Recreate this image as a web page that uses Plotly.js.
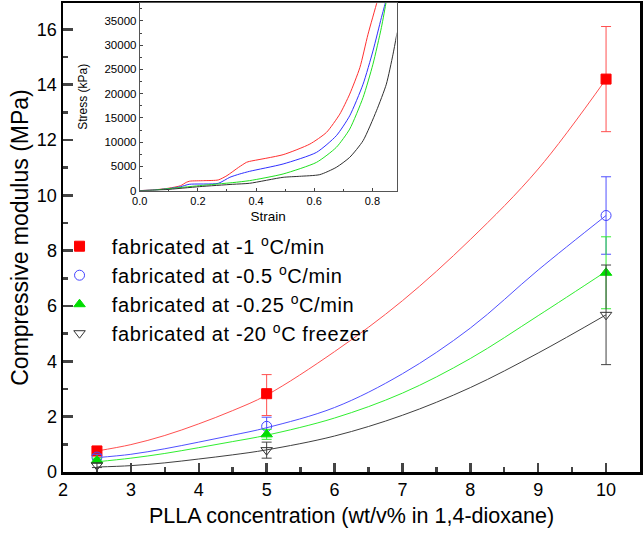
<!DOCTYPE html>
<html><head><meta charset="utf-8">
<script src="https://cdn.plot.ly/plotly-3.0.1.min.js"></script>
<style>html,body{margin:0;padding:0;background:#fff}#c{width:643px;height:536px}
.legendtext{letter-spacing:0.6px}</style>
</head><body><div id="c"></div>
<script>
// Measured data (compressive modulus, MPa)
const conc = [2.5, 5, 10];
const red = [0.76, 2.83, 14.2];
const redErrPlus = [0.17, 0.69, 1.9];
const redErrMinus = [0.17, 0.79, 1.9];
const blue = [0.54, 1.65, 9.27];
const blueErr = [0.1, 0.33, 1.4];
const green = [0.42, 1.36, 7.2];
const greenErr = [0.08, 0.18, 1.3];
const black = [0.24, 0.79, 5.68];
const blackErr = [0.08, 0.29, 1.8];

// Fitted curves
const fitX = [2.5, 3, 3.5, 4, 4.5, 5, 6, 7, 8, 9, 10];
const fitRed = [0.76, 0.99, 1.32, 1.74, 2.22, 2.78, 4.35, 6.19, 8.4, 10.95, 14.2];
const fitBlue = [0.52, 0.64, 0.84, 1.08, 1.33, 1.6, 2.33, 3.55, 5.2, 7.3, 9.27];
const fitGreen = [0.37, 0.5, 0.67, 0.88, 1.1, 1.33, 1.95, 2.85, 4.1, 5.65, 7.25];
const fitBlack = [0.18, 0.23, 0.33, 0.47, 0.62, 0.8, 1.3, 2.05, 3.05, 4.3, 5.68];

// Inset stress-strain curves (strain, stress in kPa)
const strainRed = [0, 0.05, 0.1, 0.14, 0.16, 0.172, 0.22, 0.27, 0.30, 0.34, 0.367, 0.378, 0.493, 0.585, 0.642, 0.688, 0.722, 0.757, 0.785, 0.817, 0.83];
const stressRed = [0, 150, 500, 1000, 1700, 1950, 2050, 2200, 3090, 4800, 5830, 6030, 7410, 9600, 12000, 15780, 19900, 25380, 32250, 39100, 42000];
const strainBlue = [0, 0.05, 0.1, 0.14, 0.17, 0.27, 0.31, 0.344, 0.378, 0.493, 0.608, 0.676, 0.722, 0.768, 0.802, 0.831, 0.846, 0.855];
const stressBlue = [0, 120, 420, 800, 1300, 1500, 2750, 3430, 3980, 5490, 7890, 11320, 15430, 21950, 28800, 35670, 39100, 42000];
const strainGreen = [0, 0.05, 0.09, 0.206, 0.32, 0.378, 0.493, 0.608, 0.676, 0.722, 0.768, 0.802, 0.831, 0.848, 0.857];
const stressGreen = [0, 100, 340, 1030, 1650, 2060, 3430, 5830, 8920, 12690, 19210, 26070, 33610, 39100, 42000];
const strainBlack = [0, 0.05, 0.09, 0.206, 0.32, 0.378, 0.493, 0.55, 0.619, 0.676, 0.722, 0.768, 0.814, 0.848, 0.871, 0.885];
const stressBlack = [0, 60, 200, 820, 1300, 1510, 2740, 2950, 3290, 4800, 6860, 10290, 16460, 21950, 28130, 32600];

const names = [
  '&nbsp;&nbsp;fabricated at -1 <sup>o</sup>C/min',
  '&nbsp;&nbsp;fabricated at -0.5 <sup>o</sup>C/min',
  '&nbsp;&nbsp;fabricated at -0.25 <sup>o</sup>C/min',
  '&nbsp;&nbsp;fabricated at -20 <sup>o</sup>C freezer'
];

const F = 'Liberation Sans, Arial, sans-serif';
const cR = '#ff5050', cB = '#5050ff', cG = '#30ee30', cK = '#404040';

function fit(y, c) {
  return {x: fitX, y: y, mode: 'lines', line: {color: c, width: 1, shape: 'spline', smoothing: 1},
    showlegend: false, hoverinfo: 'skip', xaxis: 'x', yaxis: 'y'};
}
function pts(y, ep, em, c, sym, mc, name, g) {
  return {x: conc, y: y, mode: 'markers', name: name, legendgroup: g,
    error_y: {type: 'data', array: ep, arrayminus: em, color: c, thickness: 1, width: 5},
    marker: {symbol: sym, size: 10, color: mc, line: {color: mc, width: 1}},
    xaxis: 'x', yaxis: 'y'};
}
function ins(x, y, c) {
  return {x: x, y: y, mode: 'lines', line: {color: c, width: 1, shape: 'spline', smoothing: 0.6}, showlegend: false,
    xaxis: 'x2', yaxis: 'y2', hoverinfo: 'skip'};
}

const data = [
  fit(fitRed, cR), fit(fitBlue, cB), fit(fitGreen, cG), fit(fitBlack, cK),
  pts(red, redErrPlus, redErrMinus, cR, 'square', '#ff0000', names[0], 'a'),
  pts(blue, blueErr, blueErr, cB, 'circle-open', '#4444ff', names[1], 'b'),
  pts(green, greenErr, greenErr, cG, 'triangle-up', '#00dd00', names[2], 'c'),
  pts(black, blackErr, blackErr, cK, 'triangle-down-open', '#333333', names[3], 'd'),
  ins(strainRed, stressRed, '#ff3030'), ins(strainBlue, stressBlue, '#3030ff'),
  ins(strainGreen, stressGreen, '#20e020'), ins(strainBlack, stressBlack, '#303030')
];

const layout = {
  width: 643, height: 536,
  margin: {l: 63, r: 3, t: 3, b: 64},
  paper_bgcolor: '#fff', plot_bgcolor: '#fff',
  font: {family: F, color: '#000'},
  showlegend: true,
  legend: {x: -0.006, y: 0.523, xanchor: 'left', yanchor: 'top', bgcolor: 'rgba(0,0,0,0)',
    font: {family: F, size: 20, color: '#000'}, traceorder: 'grouped', tracegroupgap: 0,
    itemwidth: 30},
  xaxis: {range: [2, 10.5], dtick: 1, tick0: 2, ticks: 'inside', ticklen: 9, tickwidth: 2.5,
    showline: true, linewidth: 2.5, linecolor: '#000', mirror: true, showgrid: false, zeroline: false,
    tickfont: {family: F, size: 18}, minor: {dtick: 0.5, ticks: 'inside', ticklen: 5, tickwidth: 2.5, showgrid: false},
    title: {text: 'PLLA concentration (wt/v% in 1,4-dioxane)', font: {family: F, size: 21.5}, standoff: 9}},
  yaxis: {range: [0, 16.95], dtick: 2, ticks: 'inside', ticklen: 10, tickwidth: 2.5,
    showline: true, linewidth: 2.5, linecolor: '#000', mirror: true, showgrid: false, zeroline: false,
    tickfont: {family: F, size: 18}, minor: {dtick: 1, ticks: 'inside', ticklen: 5, tickwidth: 2.5, showgrid: false},
    title: {text: 'Compressive modulus (MPa)', font: {family: F, size: 23}, standoff: 2}},
  xaxis2: {domain: [0.133, 0.578], anchor: 'y2', range: [0, 0.883], dtick: 0.2, tickformat: '.1f',
    ticks: 'inside', ticklen: 3, tickwidth: 1, showline: true, linewidth: 1, linecolor: '#555', mirror: true,
    showgrid: false, zeroline: false, tickfont: {family: F, size: 11},
    minor: {dtick: 0.1, ticks: 'inside', ticklen: 2, showgrid: false},
    title: {text: 'Strain', font: {family: F, size: 13.5}, standoff: 5}},
  yaxis2: {domain: [0.6, 1], anchor: 'x2', range: [0, 38700], dtick: 5000, tickformat: 'd',
    ticks: 'inside', ticklen: 3, tickwidth: 1, showline: true, linewidth: 1, linecolor: '#555', mirror: true,
    showgrid: false, zeroline: false, tickfont: {family: F, size: 11.5},
    minor: {dtick: 2500, ticks: 'inside', ticklen: 2, showgrid: false},
    title: {text: 'Stress (kPa)', font: {family: F, size: 12}, standoff: 14}}
};

Plotly.newPlot('c', data, layout, {displayModeBar: false, staticPlot: true});
</script></body></html>
